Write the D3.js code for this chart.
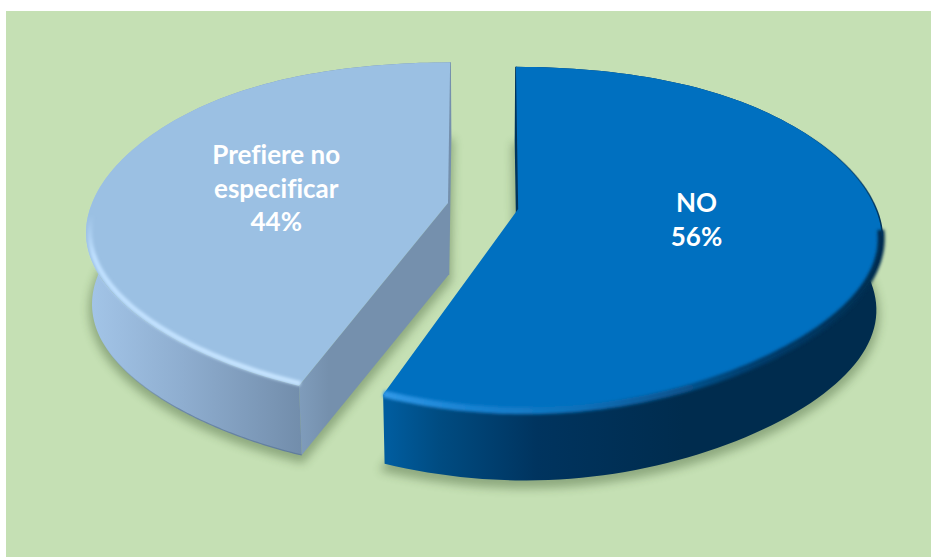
<!DOCTYPE html>
<html>
<head>
<meta charset="utf-8">
<style>
  html, body { margin: 0; padding: 0; background: #fff; }
  svg { display: block; }
  .label { font-family: Lato, "Open Sans", sans-serif; font-weight: 700; font-size: 26px; fill: #fff; text-anchor: middle; font-variant-ligatures: none; }
</style>
</head>
<body>
<script src="https://d3js.org/d3.v7.min.js"></script>
<script>
var categories = ["NO", "Prefiere no especificar"];
var values = [56, 44];
var labelLines = [["NO", "56%"], ["Prefiere no", "especificar", "44%"]];
var topColors = ["#0070c0", "#9bc0e3"];

var width = 934, height = 557;
// perspective of the tilted pie
var cx = 483, cy = 206, rx = 357, ry = 166, kx = 0.174, kx3 = 0.1, ky = 0.174;
var explode = 0.1, wallH = 72, wallShrink = 0.985;

var svg = d3.select("body").append("svg")
    .attr("width", width)
    .attr("height", height);

var defs = svg.append("defs");

function hGrad(id, stops, x1, x2, y1, y2) {
  var g = defs.append("linearGradient")
      .attr("id", id)
      .attr("gradientUnits", "userSpaceOnUse")
      .attr("x1", x1).attr("x2", x2)
      .attr("y1", y1 || 0).attr("y2", y2 || 0);
  stops.forEach(function(s) {
    g.append("stop")
      .attr("offset", s[0])
      .attr("stop-color", s[1])
      .attr("stop-opacity", s[2] === undefined ? 1 : s[2]);
  });
}

hGrad("wall0", [[0, "#005c9e"], [0.1, "#004c82"], [0.3, "#00345f"], [0.6, "#002c4e"], [1, "#002c4e"]], 389, 880);
hGrad("wall1", [[0, "#a3c5e8"], [0.45, "#8eadcf"], [1, "#728dab"]], 88, 302);
hGrad("cut1", [[0, "#7f9cbb"], [0.2, "#7590ad"], [1, "#7590ad"]], 300, 445);
hGrad("rim0", [[0, "#2f97e6"], [0.15, "#1a84d4"], [0.4, "#0b6fb8"], [0.55, "#0a5a98"], [0.75, "#003c6c"], [1, "#002c4e"]], 387, 880);
hGrad("rim1", [[0, "#bfe0ff", 0], [0.25, "#bfe0ff", 1], [1, "#c6e4ff", 1]], 0, 0, 215, 380);
hGrad("edge0", [[0, "#00345c", 0], [1, "#00345c", 1]], 0, 0, 130, 220);
hGrad("foot1", [[0, "#6c88a8", 0], [0.4, "#6c88a8", 1], [1, "#5f7c9c", 1]], 100, 302);

defs.append("filter").attr("id", "shadowBlur")
    .attr("filterUnits", "userSpaceOnUse")
    .attr("x", 0).attr("y", 0).attr("width", width).attr("height", height)
  .append("feGaussianBlur").attr("stdDeviation", 5);
defs.append("filter").attr("id", "rimBlur")
    .attr("filterUnits", "userSpaceOnUse")
    .attr("x", 0).attr("y", 0).attr("width", width).attr("height", height)
  .append("feGaussianBlur").attr("stdDeviation", 1.4);

var pie = d3.pie().sort(null);
var arcs = pie(values);
var line = d3.line();

// pie angle + radius fraction -> point on screen
function project(slice, angle, r) {
  var mid = (slice.startAngle + slice.endAngle) / 2;
  var ex = explode * Math.sin(mid), ey = explode * Math.cos(mid);
  var u = r * Math.sin(angle);
  var V = r * Math.cos(angle) + ey;
  var w = 1 + ky * V;
  var fx = 1 - kx * V + kx3 * V * V * V;
  var exScale = V < 0 ? 1 / w : Math.pow(w, -0.4);
  return [cx + rx * (u * fx + ex * exScale), cy - ry * V / w];
}

function lower(p) {
  return [cx + wallShrink * (p[0] - cx), cy + wallShrink * (p[1] - cy) + wallH];
}

function rimPoints(slice, a0, a1, r) {
  return d3.range(0, 121).map(function(i) {
    return project(slice, a0 + (a1 - a0) * i / 120, r === undefined ? 1 : r);
  });
}

function deg(d) { return d * Math.PI / 180; }

svg.append("rect")
    .attr("x", 6).attr("y", 11)
    .attr("width", 925).attr("height", 546)
    .attr("fill", "#c5e0b4");

// soft shadow from the underside
svg.append("g")
    .attr("filter", "url(#shadowBlur)")
    .attr("opacity", 0.36)
  .selectAll("path")
  .data(arcs)
  .enter().append("path")
    .attr("transform", "translate(0,5)")
    .attr("fill", "#2d4a22")
    .attr("stroke", "#2d4a22")
    .attr("stroke-width", 6)
    .attr("d", function(d) {
      var pts = rimPoints(d, d.startAngle, d.endAngle).map(lower);
      pts.push(lower(project(d, 0, 0)));
      return line(pts) + "Z";
    });

var slices = svg.selectAll("g.slice")
    .data(arcs)
  .enter().append("g")
    .attr("class", "slice");

// outer wall
slices.append("path")
    .attr("fill", function(d, i) { return "url(#wall" + i + ")"; })
    .attr("d", function(d) {
      var rim = rimPoints(d, d.startAngle, d.endAngle);
      return line(rim.concat(rim.map(lower).reverse())) + "Z";
    });

// straight walls where the slice was cut
slices.each(function(d, i) {
  var g = d3.select(this);
  var apex = project(d, 0, 0);
  var back = project(d, i === 0 ? d.startAngle : d.endAngle, 1);
  g.append("path")
    .attr("fill", i === 0 ? "#00345c" : "#7590ad")
    .attr("stroke", i === 0 ? "#00345c" : "#7590ad")
    .attr("stroke-width", 1.5)
    .attr("d", line([back, apex, lower(apex), lower(back)]) + "Z");
  if (i === 1) {
    var front = project(d, d.startAngle, 1);
    g.append("path")
      .attr("fill", "url(#cut1)")
      .attr("d", line([apex, front, lower(front), lower(apex)]) + "Z");
    // darker line where the wall meets the ground
    g.append("path")
      .attr("fill", "none")
      .attr("stroke", "url(#foot1)")
      .attr("stroke-width", 1.2)
      .attr("d", line(rimPoints(d, d.startAngle, deg(270)).map(lower)));
  }
});

// top face
slices.append("path")
    .attr("fill", function(d, i) { return topColors[i]; })
    .attr("d", function(d) {
      var pts = rimPoints(d, d.startAngle, d.endAngle);
      pts.push(project(d, 0, 0));
      return line(pts) + "Z";
    });

// bevel along the front of the rim
slices.append("path")
    .attr("fill", "none")
    .attr("stroke", function(d, i) { return "url(#rim" + i + ")"; })
    .attr("stroke-width", function(d, i) { return i === 0 ? 7 : 5; })
    .attr("filter", "url(#rimBlur)")
    .attr("d", function(d, i) {
      return i === 0
        ? line(rimPoints(d, d.endAngle, deg(97), 0.997))
        : line(rimPoints(d, d.startAngle, deg(276), 0.99));
    });

// thin dark edge on the far right of the NO slice
svg.append("path")
    .attr("fill", "none")
    .attr("stroke", "url(#edge0)")
    .attr("stroke-width", 1.5)
    .attr("d", line(rimPoints(arcs[0], deg(48), deg(99))));

// labels
slices.append("text")
    .attr("class", "label")
    .each(function(d, i) {
      var mid = (d.startAngle + d.endAngle) / 2;
      var p = project(d, mid, 0.5);
      var lines = labelLines[i];
      var t = d3.select(this);
      lines.forEach(function(s, j) {
        t.append("tspan")
          .attr("x", p[0] + (i === 0 ? -1 : 0))
          .attr("y", p[1] + (i === 0 ? 4 : 10) + (j - (lines.length - 1) / 2) * 33.5)
          .text(s);
      });
    });
</script>
</body>
</html>
